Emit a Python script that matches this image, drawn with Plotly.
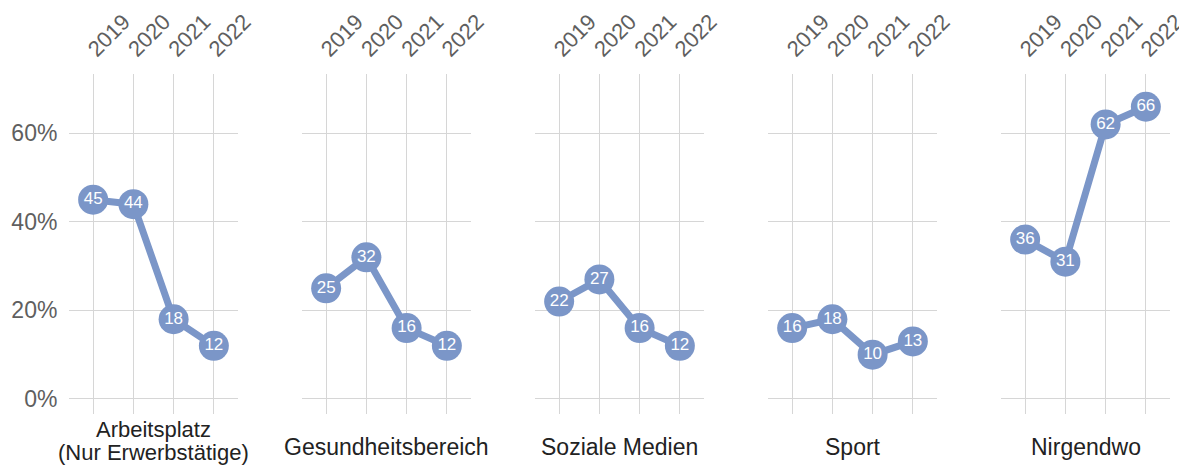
import plotly.graph_objects as go

years = ["2019", "2020", "2021", "2022"]
panel_names = ["Arbeitsplatz<br>(Nur Erwerbstätige)", "Gesundheitsbereich", "Soziale Medien", "Sport", "Nirgendwo"]
arbeitsplatz = [45, 44, 18, 12]
gesundheit = [25, 32, 16, 12]
soziale_medien = [22, 27, 16, 12]
sport = [16, 18, 10, 13]
nirgendwo = [36, 31, 62, 66]
series = [arbeitsplatz, gesundheit, soziale_medien, sport, nirgendwo]
y_ticks = [0, 20, 40, 60]
y_tick_text = ["0%", "20%", "40%", "60%"]

# page body has an 8px margin, so the figure is drawn 8px in from the corner
OFF = 8
W, H = 1187 - OFF, 475 - 2 * OFF
COLOR = "#7b96c8"
GRID = "#d6d6d6"
FONT = "Liberation Sans, Arial, Helvetica, sans-serif"

left0, pw, step = 69 - OFF, 169, 233
top, bottom = 74 - OFF, 414 - OFF
label_center = 447 - OFF
two_line_center = 440.5 - OFF
line_gap = 23

fig = go.Figure()
layout = dict(
    width=W, height=H,
    margin=dict(l=0, r=0, t=0, b=0),
    paper_bgcolor="white", plot_bgcolor="white",
    showlegend=False,
    font=dict(family=FONT),
)
annotations = []
for i, vals in enumerate(series):
    n = i + 1
    sfx = "" if n == 1 else str(n)
    x0 = left0 + step * i
    x1 = x0 + pw
    fig.add_trace(go.Scatter(
        x=years, y=vals, mode="lines+markers+text",
        text=[str(v) for v in vals], textposition="middle center",
        textfont=dict(color="white", size=17, family=FONT),
        line=dict(color=COLOR, width=7),
        marker=dict(color=COLOR, size=30),
        xaxis="x" + sfx, yaxis="y" + sfx,
        cliponaxis=False, hoverinfo="skip",
    ))
    layout["xaxis" + sfx] = dict(
        domain=[x0 / W, x1 / W], type="category", range=[-0.6, 3.6],
        side="top", tickangle=-45, showgrid=True, gridcolor=GRID, gridwidth=1.2,
        zeroline=False, showline=False, ticks="outside", ticklen=3,
        tickcolor="rgba(0,0,0,0)", ticklabelshift=-4,
        tickfont=dict(size=22, color="#5f5f5f", family=FONT),
        anchor="y" + sfx, automargin=False, fixedrange=True,
    )
    layout["yaxis" + sfx] = dict(
        domain=[1 - bottom / H, 1 - top / H], range=[-3.4, 73.4],
        tickmode="array", tickvals=y_ticks, ticktext=y_tick_text, showticklabels=(n == 1),
        showgrid=True, gridcolor=GRID, gridwidth=1.2, zeroline=False, showline=False,
        ticks="outside" if n == 1 else "", ticklen=6, tickcolor="rgba(0,0,0,0)",
        tickfont=dict(size=23, color="#5f5f5f", family=FONT),
        anchor="x" + sfx, automargin=False, fixedrange=True,
    )
    lines = panel_names[i].split("<br>")
    multi = len(lines) > 1
    center = two_line_center if multi else label_center
    first = center - line_gap * (len(lines) - 1) / 2
    for k, line in enumerate(lines):
        annotations.append(dict(
            text=line, x=(x0 + x1) / 2 / W, y=1 - (first + k * line_gap) / H,
            xref="paper", yref="paper", xanchor="center", yanchor="middle",
            showarrow=False, font=dict(size=22 if multi else 23, color="#222222", family=FONT),
        ))
layout["annotations"] = annotations
fig.update_layout(**layout)
fig.write_html("out.html")
